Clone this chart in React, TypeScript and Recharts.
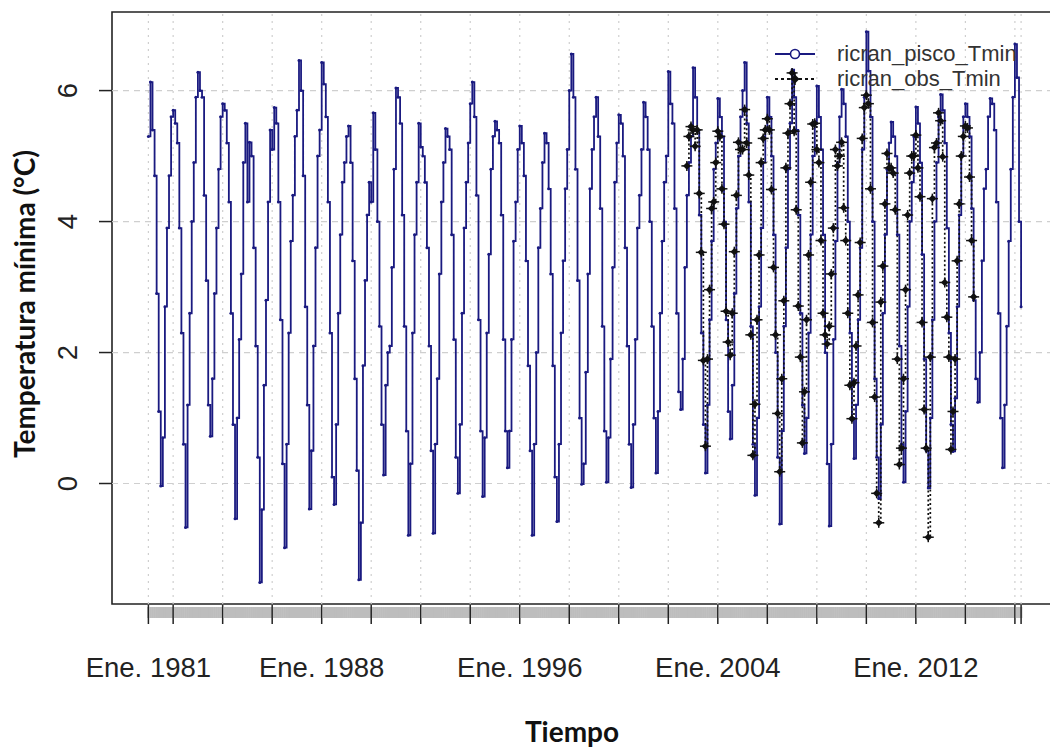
import React from 'react';
import { LineChart, Line, XAxis, YAxis, ReferenceLine, ReferenceArea } from 'recharts';

// monthly minimum temperature (°C), Jan 1981 .. Apr 2016
const START_YEAR = 1981;
const piscoTmin = [
  5.3, 6.13, 5.4, 4.7, 2.9, 1.1, -0.04, 0.7, 2.7, 3.9, 4.7, 5.6, // 1981
  5.7, 5.5, 5.2, 3.9, 2.3, 0.6, -0.67, 1.2, 2.6, 4.0, 4.9, 5.9, // 1982
  6.28, 6.0, 5.9, 4.4, 3.1, 1.2, 0.72, 1.6, 2.9, 3.9, 4.8, 5.6, // 1983
  5.8, 5.7, 5.2, 4.3, 2.6, 0.9, -0.54, 1.0, 2.2, 3.2, 4.9, 5.5, // 1984
  4.3, 5.21, 5.0, 3.6, 2.1, 0.4, -1.51, -0.4, 1.5, 2.8, 4.3, 5.4, // 1985
  5.1, 5.74, 5.5, 4.3, 2.5, 0.3, -0.98, 0.6, 2.3, 3.7, 4.4, 5.3, // 1986
  5.7, 6.46, 6.0, 4.7, 2.7, 1.2, -0.39, 0.5, 2.1, 3.6, 5.0, 5.4, // 1987
  6.43, 6.1, 5.6, 4.3, 2.3, 0.1, -0.32, 0.9, 2.6, 3.8, 4.6, 4.9, // 1988
  5.3, 5.46, 4.9, 3.4, 1.6, 0.2, -1.47, -0.6, 1.8, 3.1, 4.1, 4.6, // 1989
  4.3, 5.66, 5.1, 4.0, 2.4, 0.9, 0.13, 1.5, 2.0, 2.1, 3.3, 4.8, // 1990
  6.04, 5.9, 5.5, 4.1, 2.4, 0.8, -0.79, 0.3, 2.3, 3.8, 4.6, 5.5, // 1991
  5.14, 5.0, 4.6, 3.6, 2.1, 0.5, -0.76, 0.6, 1.6, 3.2, 4.3, 4.9, // 1992
  5.42, 5.3, 5.1, 3.8, 2.2, 0.4, -0.15, 0.9, 2.6, 3.9, 4.6, 5.2, // 1993
  5.8, 6.13, 5.6, 4.4, 2.5, 0.8, -0.2, 0.7, 2.3, 3.5, 4.8, 5.3, // 1994
  5.53, 5.4, 5.2, 4.1, 2.2, 0.8, 0.24, 0.8, 2.2, 3.7, 4.3, 5.1, // 1995
  5.46, 5.2, 4.7, 3.4, 1.8, 0.5, -0.79, 0.6, 2.0, 3.6, 4.2, 4.9, // 1996
  5.35, 5.2, 4.5, 3.2, 1.8, 0.1, -0.58, 0.6, 2.3, 3.4, 4.5, 5.1, // 1997
  6.0, 6.56, 5.9, 4.8, 3.1, 1.0, -0.01, 0.3, 1.7, 3.2, 4.5, 5.1, // 1998
  5.6, 5.9, 5.3, 4.2, 2.4, 0.8, 0.02, 0.7, 1.9, 3.3, 4.6, 5.2, // 1999
  5.63, 5.5, 5.0, 3.6, 2.1, 0.6, -0.06, 0.9, 2.2, 3.9, 4.4, 5.1, // 2000
  5.82, 5.6, 5.1, 4.0, 2.4, 1.0, 0.16, 1.1, 2.6, 3.7, 4.6, 5.0, // 2001
  6.29, 5.8, 5.5, 4.2, 2.6, 1.4, 1.13, 1.9, 3.3, 4.4, 4.9, 5.3, // 2002
  6.35, 5.9, 5.4, 4.1, 2.3, 0.9, 0.16, 1.2, 2.5, 3.7, 4.8, 5.2, // 2003
  5.88, 5.6, 5.3, 4.0, 2.5, 1.1, 0.68, 1.5, 2.9, 4.2, 5.0, 5.6, // 2004
  6.0, 6.43, 5.5, 4.3, 2.4, 0.6, -0.18, 1.0, 2.7, 3.9, 4.9, 5.4, // 2005
  5.9, 5.6, 5.0, 3.8, 2.0, 0.4, -0.62, 0.8, 2.4, 3.6, 4.8, 5.5, // 2006
  6.32, 5.9, 5.4, 4.1, 2.6, 1.2, 0.46, 1.0, 2.3, 3.8, 5.0, 5.5, // 2007
  6.07, 5.6, 5.1, 3.8, 2.0, 0.3, -0.65, 0.6, 2.2, 3.7, 4.9, 5.6, // 2008
  6.02, 5.8, 5.3, 4.0, 2.3, 1.0, 0.38, 1.2, 2.5, 3.6, 5.1, 5.9, // 2009
  6.9, 6.3, 5.6, 4.0, 1.6, 0.4, -0.23, 0.9, 2.6, 3.8, 4.8, 5.2, // 2010
  5.52, 5.3, 5.0, 3.8, 2.1, 0.6, 0.02, 1.1, 2.7, 4.0, 4.6, 5.3, // 2011
  5.75, 5.5, 4.9, 3.5, 1.9, 0.5, -0.07, 1.0, 2.5, 4.0, 4.9, 5.6, // 2012
  5.94, 5.7, 5.2, 3.9, 2.3, 0.9, 0.49, 1.3, 2.7, 4.1, 5.0, 5.6, // 2013
  5.8, 5.6, 5.3, 4.2, 2.8, 1.6, 1.24, 2.0, 3.4, 4.5, 4.8, 5.6, // 2014
  5.88, 5.8, 5.4, 4.3, 2.6, 1.0, 0.24, 1.2, 2.4, 3.7, 4.8, 5.9, // 2015
  6.71, 6.2, 4.0, 2.7, // 2016
];

// station record starts Oct 2002
const OBS_START_INDEX = (2002 - START_YEAR) * 12 + 9;
const obsTmin = [
  4.85, 5.3, 5.45, // 2002
  5.4, 5.15, 5.4, 4.43, 3.53, 1.88, 0.57, 1.9, 2.96, 4.2, 4.3, 4.9, // 2003
  5.38, 5.3, 4.5, 3.96, 2.63, 2.16, 1.96, 2.6, 3.54, 4.4, 5.21, 5.1, // 2004
  5.1, 5.71, 5.2, 4.71, 2.27, 0.43, 1.21, 2.5, 3.49, 4.9, 5.27, 5.4, // 2005
  5.57, 5.4, 4.49, 3.3, 2.27, 1.07, 0.18, 1.6, 2.79, 4.82, 5.35, 5.8, // 2006
  6.27, 5.38, 4.18, 2.71, 1.93, 0.62, 1.4, 2.5, 3.49, 4.6, 5.49, 5.5, // 2007
  5.1, 4.9, 3.71, 2.6, 2.27, 2.13, 2.4, 3.2, 3.9, 5.1, 4.85, 5.0, // 2008
  5.21, 4.21, 3.71, 2.6, 1.5, 0.99, 1.54, 2.1, 2.88, 3.68, 5.27, 5.74, // 2009
  5.93, 5.8, 4.5, 2.46, 1.32, -0.15, -0.6, 2.77, 3.32, 4.27, 5.04, 4.82, // 2010
  4.82, 4.74, 4.18, 1.9, 0.29, 0.54, 1.6, 2.96, 4.1, 4.74, 5.0, 5.0, // 2011
  5.32, 4.82, 4.38, 2.46, 1.13, 0.54, -0.82, 1.93, 4.35, 5.13, 5.2, 5.66, // 2012
  5.54, 4.99, 3.07, 2.54, 1.93, 0.52, 1.1, 1.9, 3.4, 4.27, 5.0, 5.3, // 2013
  5.46, 5.43, 4.68, 3.71, 2.85, // 2014
];

const majorTicks = [1981, 1982, 1984, 1986, 1988, 1990, 1992, 1994, 1996, 1998, 2000, 2002, 2004, 2006, 2008, 2010, 2012, 2014, 2016, 2016.25];
const labelTicks = [1981, 1988, 1996, 2004, 2012];
const tickLabels = ['Ene. 1981', 'Ene. 1988', 'Ene. 1996', 'Ene. 2004', 'Ene. 2012'];
const yTicks = [0, 2, 4, 6];
const seriesNames = ['ricran_pisco_Tmin', 'ricran_obs_Tmin'];

const X_DOMAIN: [number, number] = [1979.53, 2017.66];
const Y_DOMAIN: [number, number] = [-1.84, 7.2];

const PISCO_COLOR = '#1a1a80';
const AXIS_FONT = '"Liberation Sans", Arial, sans-serif';
const TITLE_FONT = 'Lato, "Open Sans", sans-serif';

const data = piscoTmin.map((v, i) => {
  const j = i - OBS_START_INDEX;
  return {
    t: START_YEAR + i / 12,
    pisco: v,
    obs: j >= 0 && j < obsTmin.length ? obsTmin[j] : null,
  };
});
const monthTicks = data.map(d => d.t);

const near = (a: number, b: number) => Math.abs(a - b) < 1e-6;

// every month gets a short grey tick (they merge into a band), years get a long one
const XTick = (props: any) => {
  const { x, y, payload } = props;
  const v = payload.value;
  const major = majorTicks.some(m => near(m, v));
  const li = labelTicks.findIndex(m => near(m, v));
  return (
    <g>
      <rect x={x - 1.3} y={y + 3} width={2.6} height={11} fill="#bdbdbd" />
      {major && <line x1={x} x2={x} y1={y + 1} y2={y + 20} stroke="#222" strokeWidth={1.5} />}
      {li >= 0 && (
        <text x={x} y={y + 73} textAnchor="middle" fontSize={27.5} fontFamily={AXIS_FONT} fill="#222">
          {tickLabels[li]}
        </text>
      )}
    </g>
  );
};

const YTick = (props: any) => {
  const { x, y, payload } = props;
  return (
    <text x={x} y={y} transform={`rotate(-90 ${x} ${y})`} textAnchor="middle" fontSize={27.5} fontFamily={AXIS_FONT} fill="#222">
      {payload.value}
    </text>
  );
};

const PiscoDot = (props: any) => {
  const { cx, cy, index } = props;
  if (cx == null || cy == null) return <g key={index} />;
  return <circle key={index} cx={cx} cy={cy} r={1.5} fill={PISCO_COLOR} />;
};

const ObsDot = (props: any) => {
  const { cx, cy, index, payload } = props;
  if (cx == null || cy == null || payload.obs == null) return <g key={index} />;
  const s = 3.8;
  return (
    <g key={index}>
      <path d={`M${cx},${cy - s}L${cx + s},${cy}L${cx},${cy + s}L${cx - s},${cy}Z`} fill="#111" />
      <line x1={cx - 5.5} x2={cx + 5.5} y1={cy} y2={cy} stroke="#111" strokeWidth={1.5} />
      <line x1={cx} x2={cx} y1={cy - 5} y2={cy + 5} stroke="#111" strokeWidth={1.5} />
    </g>
  );
};

export default function App() {
  return (
    <div style={{ position: 'absolute', left: 0, top: 0, width: 1050, height: 747, overflow: 'hidden', background: '#fff' }}>
      <LineChart width={1070} height={747} data={data} margin={{ top: 12, right: 14, bottom: 0, left: 0 }}>
        <XAxis
          dataKey="t"
          type="number"
          domain={X_DOMAIN}
          allowDataOverflow
          ticks={monthTicks}
          interval={0}
          tick={<XTick />}
          tickLine={false}
          axisLine={false}
          tickSize={0}
          tickMargin={0}
          height={143}
        />
        <YAxis
          type="number"
          domain={Y_DOMAIN}
          allowDataOverflow
          ticks={yTicks}
          tick={<YTick />}
          tickSize={13}
          tickMargin={22}
          tickLine={{ stroke: '#222', strokeWidth: 1.5 }}
          axisLine={false}
          width={112}
        />
        {yTicks.map(v => (
          <ReferenceLine key={'h' + v} y={v} stroke="#cfcfcf" strokeWidth={1.2} strokeDasharray="6 5" />
        ))}
        {majorTicks.map(v => (
          <ReferenceLine key={'v' + v} x={v} stroke="#cfcfcf" strokeWidth={1.2} strokeDasharray="2 5" />
        ))}
        <Line
          dataKey="pisco"
          type="stepAfter"
          stroke={PISCO_COLOR}
          strokeWidth={1.8}
          dot={PiscoDot}
          activeDot={false}
          isAnimationActive={false}
        />
        <Line
          dataKey="obs"
          type="stepAfter"
          stroke="#111"
          strokeWidth={1.7}
          strokeDasharray="2 2.5"
          dot={ObsDot}
          activeDot={false}
          isAnimationActive={false}
        />
        <ReferenceArea
          x1={X_DOMAIN[0]}
          x2={X_DOMAIN[1]}
          y1={Y_DOMAIN[0]}
          y2={Y_DOMAIN[1]}
          fill="none"
          stroke="#222"
          strokeWidth={1.6}
          ifOverflow="visible"
        />
      </LineChart>
      <svg width={1050} height={747} style={{ position: 'absolute', left: 0, top: 0, pointerEvents: 'none' }}>
        <text
          x={-304}
          y={35}
          transform="rotate(-90)"
          textAnchor="middle"
          fontSize={28}
          fontWeight="bold"
          fontFamily={TITLE_FONT}
          fill="#111"
        >
          Temperatura mínima (°C)
        </text>
        <text x={572} y={742} textAnchor="middle" fontSize={28} fontWeight="bold" fontFamily={TITLE_FONT} fill="#111">
          Tiempo
        </text>
        <g>
          <line x1={775} x2={815} y1={54} y2={54} stroke={PISCO_COLOR} strokeWidth={1.8} />
          <circle cx={795} cy={54} r={4.5} fill="#fff" stroke={PISCO_COLOR} strokeWidth={1.6} />
          <text x={837} y={61} fontSize={22} fontFamily={AXIS_FONT} fill="#333">{seriesNames[0]}</text>
          <line x1={775} x2={815} y1={79} y2={79} stroke="#111" strokeWidth={1.8} strokeDasharray="3 3" />
          <path d="M795,74.5L799.5,79L795,83.5L790.5,79Z" fill="#111" />
          <line x1={789} x2={801} y1={79} y2={79} stroke="#111" strokeWidth={1.5} />
          <line x1={795} x2={795} y1={73} y2={85} stroke="#111" strokeWidth={1.5} />
          <text x={837} y={86} fontSize={22} fontFamily={AXIS_FONT} fill="#333">{seriesNames[1]}</text>
        </g>
      </svg>
    </div>
  );
}
